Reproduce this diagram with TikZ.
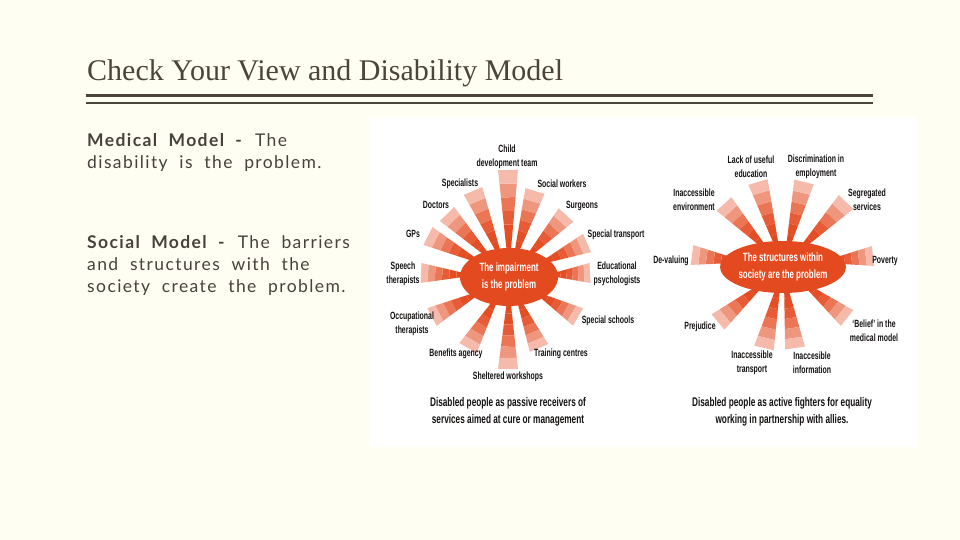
\documentclass[tikz,border=0pt]{standalone}
\usepackage{fontspec}
\usetikzlibrary{calc,positioning,shapes.geometric}
\newfontfamily\titlefont{Liberation Serif}
\newfontfamily\bodyfont[WordSpace=2,LetterSpace=8]{Lato}
\newfontfamily\condfont[FakeStretch=0.66]{Liberation Sans}
\definecolor{pagebg}{RGB}{255,254,242}
\definecolor{inkgray}{RGB}{74,69,56}
\definecolor{bodygray}{RGB}{70,66,60}
\definecolor{burstred}{RGB}{228,74,32}
\definecolor{lblink}{RGB}{20,18,17}

\tikzset{
  lbl/.style={font=\condfont\bfseries\fontsize{10.5}{14}\selectfont, align=center, inner sep=0pt, text=lblink},
  caption/.style={font=\condfont\bfseries\fontsize{12.5}{17}\selectfont, align=center, inner sep=0pt, text=lblink},
  hub/.style={ellipse, fill=burstred, text=white, inner sep=0pt, align=center,
    font=\condfont\bfseries\fontsize{12}{17}\selectfont},
  bodytext/.style={anchor=base west, font=\bodyfont\fontsize{17.5}{22}\selectfont, text=bodygray, align=left, inner sep=0pt}
}

\begin{document}
\begin{tikzpicture}[x=1pt,y=-1pt]

    % page
    \fill[pagebg] (0,0) rectangle (960,540);
    \useasboundingbox (0,0) rectangle (960,540);

    % title and double rule
    \node[anchor=base west, font=\titlefont\fontsize{30}{30}\selectfont, text=inkgray, inner sep=0pt] (title) at (87,81) {Check Your View and Disability Model};
    \draw[inkgray, line width=3.5pt] (86,95.5) -- (873,95.5);
    \draw[inkgray, line width=2pt] (86,103) -- (873,103);

    % left column (base = last line)
    \node[bodytext] (medical) at (87,169) {\textbf{Medical Model -} The\\disability is the problem.};
    \node[bodytext] (social) at (87,292) {\textbf{Social Model -} The barriers\\and structures with the\\society create the problem.};

    % white panel of the picture
    \fill[white] (369,117) rectangle (917,447);

    % rays round the medical model hub, centre (509,277)
    \foreach \ex/\ey in {508/170, 473/191, 535/191, 447/214, 566/215, 428/236, 587/243, 421/273, 590/273, 432/317, 578/317, 468/348, 539/348, 508/369} {
        \pgfmathsetmacro{\ang}{atan2(\ey-277,\ex-509)}
        \pgfmathsetmacro{\rout}{veclen(\ex-509,\ey-277)}
        \pgfmathsetmacro{\rin}{1/sqrt((cos(\ang)/49)^2+(sin(\ang)/29)^2)-4}
        \foreach \k/\tone in {0/100,1/98,2/90,3/76,4/58,5/38} {
            \pgfmathsetmacro{\rA}{\rin+\k*(\rout-\rin)/6}
            \pgfmathsetmacro{\rB}{\rin+(\k+1)*(\rout-\rin)/6}
            \pgfmathsetmacro{\wA}{2+8*\k/6}
            \pgfmathsetmacro{\wB}{2+8*(\k+1)/6}
            \fill[burstred!\tone] ($(509,277)+(\ang:\rA)+(\ang+90:\wA)$) -- ($(509,277)+(\ang:\rB)+(\ang+90:\wB)$)
                -- ($(509,277)+(\ang:\rB)+(\ang-90:\wB)$) -- ($(509,277)+(\ang:\rA)+(\ang-90:\wA)$) -- cycle;
        }
    }

    % rays round the social model hub, centre (783,267)
    \foreach \ex/\ey in {758/182, 804/182, 724/204, 846/202, 692/255, 873/256, 718/322, 847/318, 764/348, 795/348} {
        \pgfmathsetmacro{\ang}{atan2(\ey-267,\ex-783)}
        \pgfmathsetmacro{\rout}{veclen(\ex-783,\ey-267)}
        \pgfmathsetmacro{\rin}{1/sqrt((cos(\ang)/51)^2+(sin(\ang)/25)^2)-4}
        \foreach \k/\tone in {0/100,1/98,2/90,3/76,4/58,5/38} {
            \pgfmathsetmacro{\rA}{\rin+\k*(\rout-\rin)/6}
            \pgfmathsetmacro{\rB}{\rin+(\k+1)*(\rout-\rin)/6}
            \pgfmathsetmacro{\wA}{2+8*\k/6}
            \pgfmathsetmacro{\wB}{2+8*(\k+1)/6}
            \fill[burstred!\tone] ($(783,267)+(\ang:\rA)+(\ang+90:\wA)$) -- ($(783,267)+(\ang:\rB)+(\ang+90:\wB)$)
                -- ($(783,267)+(\ang:\rB)+(\ang-90:\wB)$) -- ($(783,267)+(\ang:\rA)+(\ang-90:\wA)$) -- cycle;
        }
    }

    % hubs
    \node[hub, minimum width=98pt, minimum height=58pt] (impairment) at (509,277) {The impairment\\is the problem};
    \node[hub, minimum width=102pt, minimum height=52pt] (structures) at (783,267) {The structures within\\society are the problem};

    % medical model labels
    \node[lbl] (childteam) at (507,157) {Child\\development team};
    \node[lbl] (specialists) at (460,184) {Specialists};
    \node[lbl] (socialworkers) at (562,184) {Social workers};
    \node[lbl] (doctors) at (436,205) {Doctors};
    \node[lbl] (surgeons) at (582,206) {Surgeons};
    \node[lbl] (gps) at (413,234) {GPs};
    \node[lbl] (spectransport) at (616,235) {Special transport};
    \node[lbl] (speech) at (403,274) {Speech\\therapists};
    \node[lbl] (educational) at (617,274) {Educational\\psychologists};
    \node[lbl] (occupational) at (412,324) {Occupational\\therapists};
    \node[lbl] (specschools) at (608,321) {Special schools};
    \node[lbl] (benefits) at (456,354) {Benefits agency};
    \node[lbl] (training) at (561,354) {Training centres};
    \node[lbl] (sheltered) at (508,377) {Sheltered workshops};
    \node[caption] (passive) at (508,412) {Disabled people as passive receivers of\\services aimed at cure or management};

    % social model labels
    \node[lbl] (education) at (751,167) {Lack of useful\\education};
    \node[lbl] (employment) at (816,167) {Discrimination in\\employment};
    \node[lbl] (environment) at (694,200) {Inaccessible\\environment};
    \node[lbl] (segregated) at (867,200) {Segregated\\services};
    \node[lbl] (devaluing) at (671,261) {De-valuing};
    \node[lbl] (poverty) at (885,261) {Poverty};
    \node[lbl] (prejudice) at (700,327) {Prejudice};
    \node[lbl] (belief) at (874,331) {‘Belief’ in the\\medical model};
    \node[lbl] (transport) at (752,363) {Inaccessible\\transport};
    \node[lbl] (information) at (812,363) {Inaccesible\\information};
    \node[caption] (active) at (782,412) {Disabled people as active fighters for equality\\working in partnership with allies.};

\end{tikzpicture}
\end{document}
